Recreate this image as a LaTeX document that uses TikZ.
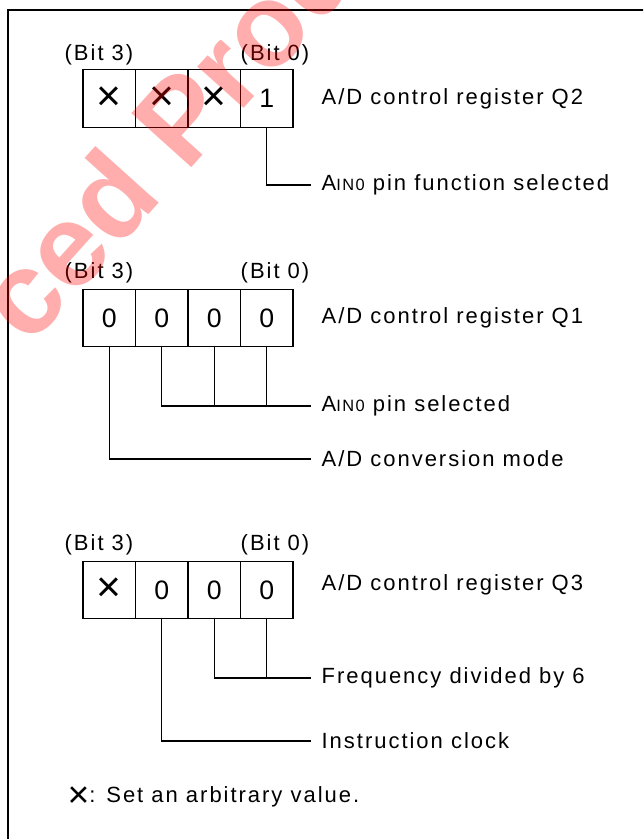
\documentclass[tikz,border=0pt]{standalone}
\usepackage{fontspec}
\setmainfont{Liberation Sans}[LetterSpace=9]
\newfontfamily\stampfont{Liberation Sans}

\tikzset{every picture/.style={line width=1pt}}
\tikzset{
  cell/.style={draw, minimum width=39.4pt, minimum height=43.1pt, inner sep=0pt, font=\fontsize{20}{20}\selectfont},
  bitlbl/.style={inner sep=0.75pt},
  txt/.style={anchor=west, inner xsep=7.5pt, inner ysep=0.75pt},
  frame/.style={line width=1.9pt},
}
\newcommand\anyval[1][32]{{\fontsize{#1}{#1}\selectfont ×}}
\newcommand\ainpin{A{\fontsize{12.3}{12}\selectfont IN0}}

\begin{document}
\begin{tikzpicture}[x=0.75pt,y=0.75pt,yscale=-1,xscale=1,font=\fontsize{16.5}{19}\selectfont]
\useasboundingbox (0,0) rectangle (643,839);
\clip (0,0) rectangle (643,839);

%Frame
\draw [frame] (8,860) -- (8,10) -- (660,10) ;

%Register Q2
\node [bitlbl] (q2hi) at (99,55) {(Bit 3)};
\node [bitlbl] (q2lo) at (275,55) {(Bit 0)};
\node [cell] (q2c3) at (109.25,98.5) {\anyval};
\node [cell] (q2c2) at (161.75,98.5) {\anyval};
\node [cell] (q2c1) at (214.25,98.5) {\anyval};
\node [cell] (q2c0) at (266.75,98.5) {1};
\node [txt] (q2name) at (311,98.5) {A/D control register Q2};
\node [txt] (q2func) at (311,185) {\ainpin{} pin function selected};
\draw (q2c0.south) |- (q2func.west) ;

%Register Q1
\node [bitlbl] (q1hi) at (99,273) {(Bit 3)};
\node [bitlbl] (q1lo) at (275,273) {(Bit 0)};
\node [cell] (q1c3) at (109.25,318) {0};
\node [cell] (q1c2) at (161.75,318) {0};
\node [cell] (q1c1) at (214.25,318) {0};
\node [cell] (q1c0) at (266.75,318) {0};
\node [txt] (q1name) at (311,318) {A/D control register Q1};
\node [txt] (q1pin) at (311,406) {\ainpin{} pin selected};
\node [txt] (q1mode) at (311,459) {A/D conversion mode};
\draw (q1c2.south) |- (q1pin.west) ;
\draw (q1c1.south) -- (q1c1.south |- q1pin.west) ;
\draw (q1c0.south) -- (q1c0.south |- q1pin.west) ;
\draw (q1c3.south) |- (q1mode.west) ;

%Register Q3
\node [bitlbl] (q3hi) at (99,545) {(Bit 3)};
\node [bitlbl] (q3lo) at (275,545) {(Bit 0)};
\node [cell] (q3c3) at (109.25,590) {\anyval};
\node [cell] (q3c2) at (161.75,590) {0};
\node [cell] (q3c1) at (214.25,590) {0};
\node [cell] (q3c0) at (266.75,590) {0};
\node [txt] (q3name) at (311,585) {A/D control register Q3};
\node [txt] (q3freq) at (311,678) {Frequency divided by 6};
\node [txt] (q3clk) at (311,741) {Instruction clock};
\draw (q3c1.south) |- (q3freq.west) ;
\draw (q3c0.south) -- (q3c0.south |- q3freq.west) ;
\draw (q3c2.south) |- (q3clk.west) ;

% Note
\node [anchor=west, inner sep=0.75pt] (note) at (66,797) {\raisebox{-3.5pt}{\anyval[28]}: Set an arbitrary value.};

% Stamp
\node [rotate=48, anchor=base west, inner sep=0pt, text=red, opacity=0.32, font=\fontsize{88}{88}\stampfont\bfseries] (stamp) at (29,348) {ced Prod};

\end{tikzpicture}
\end{document}
